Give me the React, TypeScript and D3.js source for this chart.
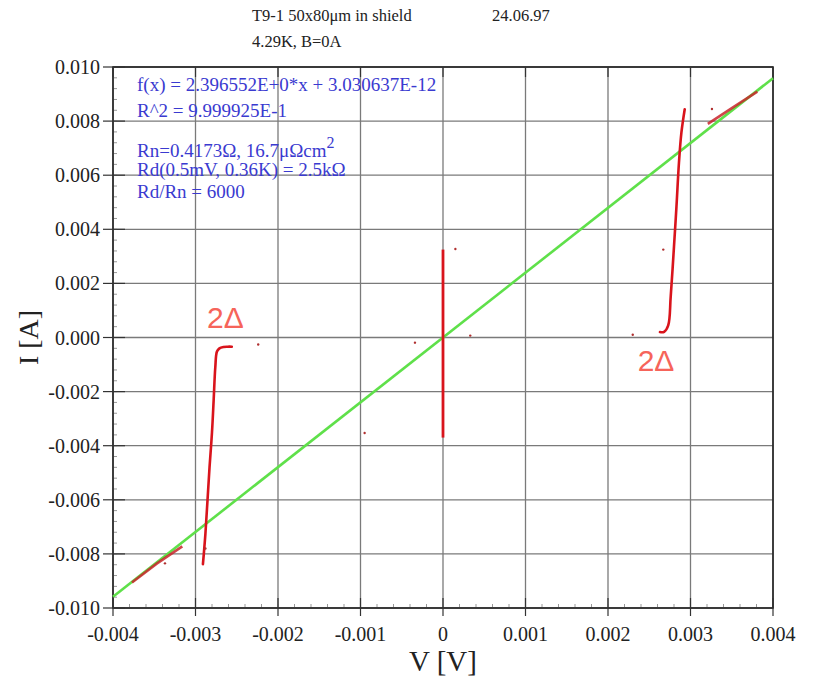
import React, { useRef, useEffect } from 'react';
import * as d3 from 'd3';

// fit line I = a*V + b
const fitSlope = 2.396552;
const fitIntercept = 3.030637e-12;

const leftBranchV = [-0.00291, -0.00288, -0.00283, -0.0028, -0.00278, -0.00276, -0.00274, -0.00271, -0.00266, -0.00261, -0.00256];
const leftBranchI = [-0.00838, -0.00726, -0.0048, -0.0035, -0.00232, -0.0011, -0.00052, -0.0004, -0.00035, -0.00034, -0.00034];
const rightBranchV = [0.00263, 0.00268, 0.00273, 0.00276, 0.0028, 0.00283, 0.00286, 0.00289, 0.00293];
const rightBranchI = [0.0002, 0.00021, 0.00045, 0.00151, 0.00337, 0.00485, 0.00646, 0.00758, 0.00844];
const centerV = [0, 0];
const centerI = [-0.0037, 0.00325];
const ohmicLowV = [-0.00377, -0.00347, -0.00316];
const ohmicLowI = [-0.00906, -0.00836, -0.00772];
const ohmicHighV = [0.00321, 0.00351, 0.00381];
const ohmicHighI = [0.0079, 0.0085, 0.00909];
const strayV = [-0.00224, -0.00288, -0.00337, -0.00095, -0.00034, 0.00015, 0.00033, 0.00267, 0.0023, 0.00326];
const strayI = [-0.00026, -0.0078, -0.00835, -0.00353, -0.00019, 0.00327, 0.00007, 0.00325, 0.0001, 0.00845];

const xTicks = [-0.004, -0.003, -0.002, -0.001, 0, 0.001, 0.002, 0.003, 0.004];
const xTickLabels = ['-0.004', '-0.003', '-0.002', '-0.001', '0', '0.001', '0.002', '0.003', '0.004'];
const yTicks = [0.01, 0.008, 0.006, 0.004, 0.002, 0, -0.002, -0.004, -0.006, -0.008, -0.01];
const yTickLabels = ['0.010', '0.008', '0.006', '0.004', '0.002', '0.000', '-0.002', '-0.004', '-0.006', '-0.008', '-0.010'];

const fitLines = [
  'f(x) = 2.396552E+0*x + 3.030637E-12',
  'R^2 = 9.999925E-1',
];

const W = 814;
const H = 679;
const margin = { top: 67, right: 41, bottom: 71, left: 113 };

export default function App() {
  const ref = useRef<SVGSVGElement | null>(null);

  useEffect(() => {
    if (!ref.current) return;
    const svg = d3.select(ref.current);
    svg.selectAll('*').remove();

    const innerW = W - margin.left - margin.right;
    const innerH = H - margin.top - margin.bottom;
    const x = d3.scaleLinear().domain([-0.004, 0.004]).range([0, innerW]);
    const y = d3.scaleLinear().domain([-0.01, 0.01]).range([innerH, 0]);
    const serif = '"Liberation Serif", "DejaVu Serif", serif';

    svg.append('rect').attr('width', W).attr('height', H).attr('fill', '#fff');

    const g = svg.append('g').attr('transform', `translate(${margin.left},${margin.top})`);

    // grid
    g.append('g')
      .selectAll('line')
      .data(xTicks)
      .join('line')
      .attr('x1', (d) => x(d))
      .attr('x2', (d) => x(d))
      .attr('y1', 0)
      .attr('y2', innerH)
      .attr('stroke', '#7a7a7a')
      .attr('stroke-width', 1.3);
    g.append('g')
      .selectAll('line')
      .data(yTicks)
      .join('line')
      .attr('y1', (d) => y(d))
      .attr('y2', (d) => y(d))
      .attr('x1', 0)
      .attr('x2', innerW)
      .attr('stroke', '#7a7a7a')
      .attr('stroke-width', 1.3);

    // minor ticks
    const xMinor = d3.range(-0.004, 0.00401, 0.0002);
    const yMinor = d3.range(-0.01, 0.01001, 0.0004);
    g.append('g')
      .selectAll('line')
      .data(xMinor)
      .join('line')
      .attr('x1', (d) => x(d))
      .attr('x2', (d) => x(d))
      .attr('y1', innerH)
      .attr('y2', innerH - 4)
      .attr('stroke', '#999')
      .attr('stroke-width', 1);
    g.append('g')
      .selectAll('line')
      .data(yMinor)
      .join('line')
      .attr('y1', (d) => y(d))
      .attr('y2', (d) => y(d))
      .attr('x1', 0)
      .attr('x2', 4)
      .attr('stroke', '#999')
      .attr('stroke-width', 1);

    // frame
    g.append('rect')
      .attr('width', innerW)
      .attr('height', innerH)
      .attr('fill', 'none')
      .attr('stroke', '#222')
      .attr('stroke-width', 1.6);

    // major ticks
    g.append('g')
      .selectAll('line')
      .data(yTicks)
      .join('line')
      .attr('x1', -10)
      .attr('x2', 12)
      .attr('y1', (d) => y(d))
      .attr('y2', (d) => y(d))
      .attr('stroke', '#333')
      .attr('stroke-width', 1.2);
    g.append('g')
      .selectAll('line')
      .data(xTicks)
      .join('line')
      .attr('x1', (d) => x(d))
      .attr('x2', (d) => x(d))
      .attr('y1', innerH + 8)
      .attr('y2', innerH - 10)
      .attr('stroke', '#333')
      .attr('stroke-width', 1.2);
    g.append('g')
      .selectAll('line')
      .data(xTicks)
      .join('line')
      .attr('x1', (d) => x(d))
      .attr('x2', (d) => x(d))
      .attr('y1', 0)
      .attr('y2', 10)
      .attr('stroke', '#333')
      .attr('stroke-width', 1.2);

    // tick labels
    g.append('g')
      .selectAll('text')
      .data(yTicks)
      .join('text')
      .attr('x', -13)
      .attr('y', (d) => y(d))
      .attr('dy', '0.35em')
      .attr('text-anchor', 'end')
      .attr('font-family', serif)
      .attr('font-size', 20)
      .attr('fill', '#222')
      .text((d, i) => yTickLabels[i]);
    g.append('g')
      .selectAll('text')
      .data(xTicks)
      .join('text')
      .attr('x', (d) => x(d))
      .attr('y', innerH + 33)
      .attr('text-anchor', 'middle')
      .attr('font-family', serif)
      .attr('font-size', 20)
      .attr('fill', '#222')
      .text((d, i) => xTickLabels[i]);

    // axis titles
    svg.append('text')
      .attr('x', margin.left + x(0))
      .attr('y', 671)
      .attr('text-anchor', 'middle')
      .attr('font-family', serif)
      .attr('font-size', 29)
      .attr('fill', '#222')
      .text('V [V]');
    svg.append('text')
      .attr('transform', `translate(38, ${margin.top + y(0)}) rotate(-90)`)
      .attr('text-anchor', 'middle')
      .attr('font-family', serif)
      .attr('font-size', 28)
      .attr('fill', '#222')
      .text('I [A]');

    // fit line
    const fitDomain = x.domain();
    g.append('line')
      .attr('x1', x(fitDomain[0]))
      .attr('y1', y(fitSlope * fitDomain[0] + fitIntercept))
      .attr('x2', x(fitDomain[1]))
      .attr('y2', y(fitSlope * fitDomain[1] + fitIntercept))
      .attr('stroke', '#5fe04a')
      .attr('stroke-width', 2.6);

    const smooth = d3
      .line<[number, number]>()
      .x((d) => x(d[0]))
      .y((d) => y(d[1]))
      .curve(d3.curveCatmullRom.alpha(0.5));
    const lineLin = d3
      .line<[number, number]>()
      .x((d) => x(d[0]))
      .y((d) => y(d[1]));

    const zip = (a: number[], b: number[]) => a.map((v, i) => [v, b[i]] as [number, number]);
    const red = '#d9141c';

    [zip(leftBranchV, leftBranchI), zip(rightBranchV, rightBranchI)].forEach((seg) => {
      g.append('path')
        .attr('d', smooth(seg) as string)
        .attr('fill', 'none')
        .attr('stroke', red)
        .attr('stroke-width', 2.6)
        .attr('stroke-linejoin', 'round')
        .attr('stroke-linecap', 'round');
    });
    g.append('path')
      .attr('d', lineLin(zip(centerV, centerI)) as string)
      .attr('fill', 'none')
      .attr('stroke', red)
      .attr('stroke-width', 2.8);
    [zip(ohmicLowV, ohmicLowI), zip(ohmicHighV, ohmicHighI)].forEach((seg) => {
      g.append('path')
        .attr('d', lineLin(seg) as string)
        .attr('fill', 'none')
        .attr('stroke', '#c8242a')
        .attr('stroke-width', 2.6)
        .attr('opacity', 0.85);
    });

    g.append('g')
      .selectAll('circle')
      .data(zip(strayV, strayI))
      .join('circle')
      .attr('cx', (d) => x(d[0]))
      .attr('cy', (d) => y(d[1]))
      .attr('r', 1.2)
      .attr('fill', '#b03030');

    // 2Δ annotations
    const sans = '"Liberation Sans", Arial, sans-serif';
    g.append('text')
      .attr('x', x(-0.00286))
      .attr('y', y(0.00035))
      .attr('font-family', sans)
      .attr('font-size', 30)
      .attr('fill', '#f6645a')
      .text('2Δ');
    g.append('text')
      .attr('x', x(0.00236))
      .attr('y', y(-0.00125))
      .attr('font-family', sans)
      .attr('font-size', 30)
      .attr('fill', '#f6645a')
      .text('2Δ');

    // fit info
    const blue = '#3a3ad0';
    const info = svg.append('g').attr('font-family', serif).attr('fill', blue).attr('font-size', 19);
    info.append('text').attr('x', 137).attr('y', 91).text(fitLines[0]);
    info.append('text').attr('x', 137).attr('y', 117).text(fitLines[1]);
    const rn = info.append('text').attr('x', 137).attr('y', 157);
    rn.append('tspan').text('Rn=0.4173Ω, 16.7μΩcm');
    rn.append('tspan').attr('dy', -9).attr('font-size', 16).text('2');
    info.append('text').attr('x', 137).attr('y', 176).text('Rd(0.5mV, 0.36K) = 2.5kΩ');
    info.append('text').attr('x', 137).attr('y', 198).text('Rd/Rn = 6000');

    // header
    const head = svg.append('g').attr('font-family', serif).attr('fill', '#222').attr('font-size', 16.5);
    head.append('text').attr('x', 252).attr('y', 21).text('T9-1 50x80μm in shield');
    head.append('text').attr('x', 492).attr('y', 21).text('24.06.97');
    head.append('text').attr('x', 252).attr('y', 47).text('4.29K, B=0A');
  }, []);

  return (
    <svg
      ref={ref}
      width={W}
      height={H}
      style={{ position: 'absolute', left: 0, top: 0 }}
    />
  );
}
